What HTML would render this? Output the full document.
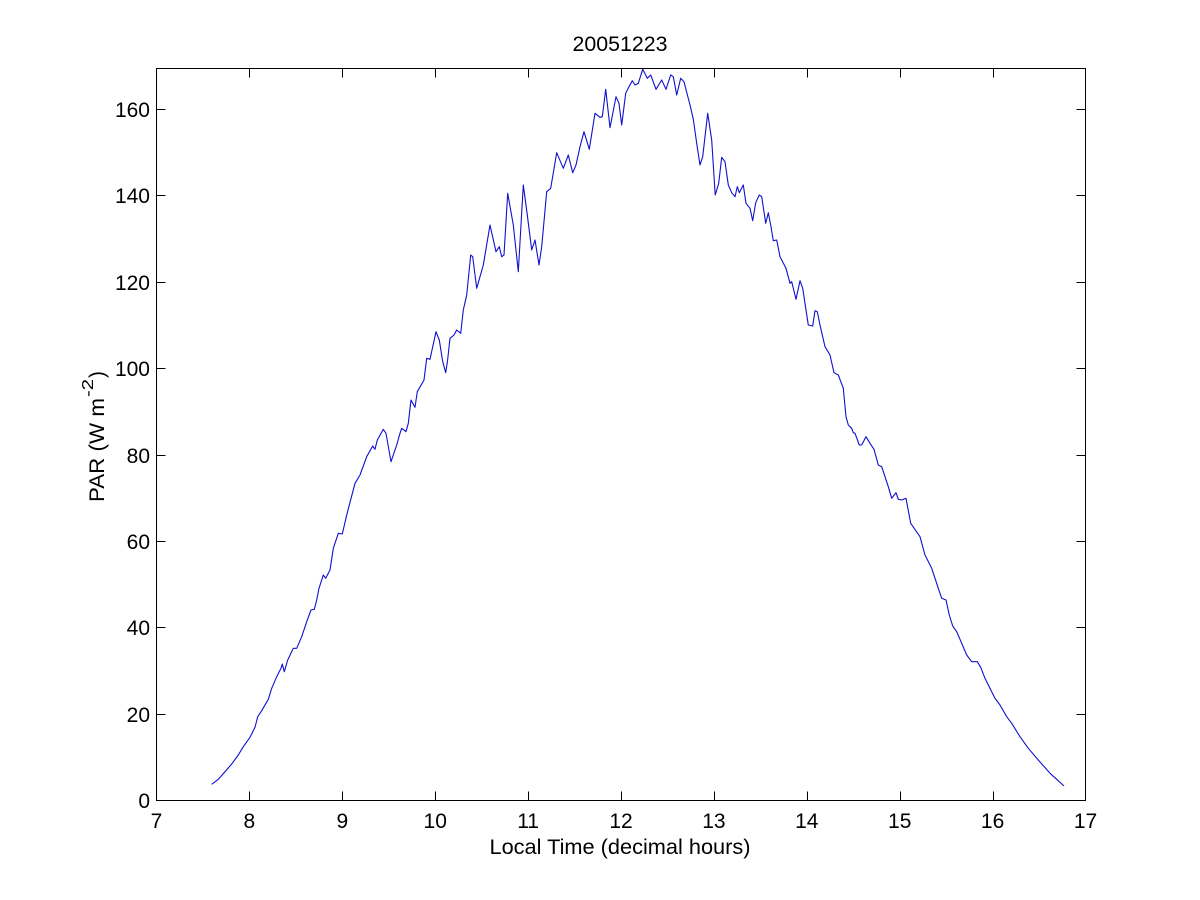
<!DOCTYPE html>
<html>
<head>
<meta charset="utf-8">
<style>
  html,body{margin:0;padding:0;background:#fff;}
  svg{display:block;}
  text{font-family:"Liberation Sans",Arial,sans-serif;fill:#000;}
</style>
</head>
<body>
<svg width="1200" height="900" viewBox="0 0 1200 900" xmlns="http://www.w3.org/2000/svg">
  <rect x="0" y="0" width="1200" height="900" fill="#fff"/>

  <!-- data series -->
  <polyline fill="none" stroke="#1010d0" stroke-width="1.1" stroke-linejoin="round" points="
211.7,784.3 218.3,779.3 225,771.7 231.7,764 238.3,755 243.3,746.7 250,737.3 255,727.3 257.7,716.7 261.7,710.7
268.3,699.3 271.7,688.3 276.7,676.7 281,668.3 282.3,664 284.3,671.7 287.7,660 293.3,648.3 296.7,648.3 301.7,636.7
306.7,621.7 311,610 314.3,609.3 316.7,600 319,588.3 323.3,575 325.7,578.3 330,570 332.3,555 333.3,548.3
338.3,533.3 342.3,534 346.7,515 355,483.3 360,475 366.7,456.7 372.7,446 375,449.3 377.3,440 383.3,429.3
386,433.3 391,461.7 396.7,445 400,433.3 401.7,428.3 406,431.7 408.3,423.3 411,400 415,407.3 417.3,391.7
424,380 426.7,358.3 430,359.3 436,331.7 439.3,340 442.7,361.7 445.7,372.7 447.5,361 450,338.3 454,335
456.7,330 460.7,333.3 463.3,310 466.7,295 470.7,255 472.7,256.7 476.7,288.3 483.3,265 490,225 496,251.7
499.3,246.7 501.7,256.7 504,255 507.7,193.3 513.3,225 518.3,271.7 523.3,185 527.3,215 531.7,250 535,240
539,265 541.7,246.7 546.7,191.7 550.7,188.3 556.7,152.7 563.3,168.3 568.3,155 572.7,172.7 576,165 580,146.7
584,131.7 589.3,149.3 595,113.3 600,117.3 602.3,116.7 605.7,89.3 610,127.7 616,96.7 619,103.3 621.7,125
625.7,93.3 629,86.7 632.3,80.7 635,85 638.3,83.3 642.7,69.3 647.3,78.3 650.7,75 656,89.3 661.7,80
666,89.3 670.7,75 673.3,76.7 676.7,95 680.7,78.3 684,81.7 690,105 693.3,119.3 696.7,143.3 700,165
702.7,156.7 707.7,113.3 711.7,140 715.2,195 716.7,190 718.7,183.3 721.7,157.3 725,161.7 728.3,185 731.7,192.7
735,196.7 737.3,186.7 739.3,192.7 743.3,185 746,203.3 750,208.3 752.7,220.7 755.7,202.7 759.3,195 761.7,196.7
765.7,223.3 768.3,212.7 771,226.7 773.3,240.7 776.7,240 780,256.7 786,268.3 790,283.3 791.7,281.7 796,299.3
800,280.7 802.7,288.3 808.3,325 812.7,326 815,310.7 817.3,311.7 820,325 825,346.7 830,355 834,372.7
838.3,375 843.3,388.3 846,416.7 848.3,425 851.7,428.3 853.3,432.7 855,433.3 859.3,445 861.7,445 866,436.7
870,443.3 874,449.3 878.3,465 881.7,466.7 888.3,486.7 891.7,498.3 896,492.7 898.3,499.3 901.7,500 906,498.3
910.7,523.3 920,536.7 925,555 931.7,568.3 938.3,588.3 941.7,598.3 946,600 949.3,615 952.7,626 956.7,631.7
961.7,643.3 966.7,655 971.7,661.7 977.3,661.7 980.7,667.3 985,678.3 991.7,691.7 995,698.3 1000,705 1006.7,716.7
1011.7,723.3 1020,736.7 1028.3,748.3 1038.3,760 1050,773.3 1056.7,779.3 1064,786"/>

  <!-- axes box -->
  <g stroke="#000" stroke-width="1" fill="none" shape-rendering="crispEdges">
    <rect x="156.5" y="68.5" width="929" height="732"/>
    <path d="
M156.5,800.5v-9 M249.5,800.5v-9 M342.5,800.5v-9 M435.5,800.5v-9 M528.5,800.5v-9 M621.5,800.5v-9
M714.5,800.5v-9 M807.5,800.5v-9 M900.5,800.5v-9 M993.5,800.5v-9 M1085.5,800.5v-9
M156.5,68.5v9 M249.5,68.5v9 M342.5,68.5v9 M435.5,68.5v9 M528.5,68.5v9 M621.5,68.5v9
M714.5,68.5v9 M807.5,68.5v9 M900.5,68.5v9 M993.5,68.5v9 M1085.5,68.5v9"/>
    <path d="
M156.5,800.5h9 M156.5,714.5h9 M156.5,627.5h9 M156.5,541.5h9 M156.5,455.5h9 M156.5,368.5h9 M156.5,282.5h9 M156.5,195.5h9 M156.5,109.5h9
M1085.5,800.5h-9 M1085.5,714.5h-9 M1085.5,627.5h-9 M1085.5,541.5h-9 M1085.5,455.5h-9 M1085.5,368.5h-9 M1085.5,282.5h-9 M1085.5,195.5h-9 M1085.5,109.5h-9"/>
  </g>

  <!-- y tick labels -->
  <g font-size="21" text-anchor="end">
    <text x="150" y="808">0</text>
    <text x="150" y="722">20</text>
    <text x="150" y="635">40</text>
    <text x="150" y="549">60</text>
    <text x="150" y="463">80</text>
    <text x="150" y="376">100</text>
    <text x="150" y="290">120</text>
    <text x="150" y="203">140</text>
    <text x="150" y="117">160</text>
  </g>

  <!-- x tick labels -->
  <g font-size="21" text-anchor="middle">
    <text x="156.5" y="828">7</text>
    <text x="249.4" y="828">8</text>
    <text x="342.3" y="828">9</text>
    <text x="435.2" y="828">10</text>
    <text x="528.1" y="828">11</text>
    <text x="621" y="828">12</text>
    <text x="713.9" y="828">13</text>
    <text x="806.8" y="828">14</text>
    <text x="899.7" y="828">15</text>
    <text x="992.6" y="828">16</text>
    <text x="1085.5" y="828">17</text>
  </g>

  <!-- title -->
  <text x="620" y="51" font-size="21" text-anchor="middle" textLength="95" lengthAdjust="spacingAndGlyphs">20051223</text>

  <!-- x label -->
  <text x="620" y="854" font-size="21" text-anchor="middle" textLength="261" lengthAdjust="spacingAndGlyphs">Local Time (decimal hours)</text>

  <!-- y label -->
  <g transform="translate(104,502) rotate(-90)" font-size="21">
    <text x="0" y="0" textLength="104" lengthAdjust="spacingAndGlyphs">PAR (W m</text>
    <text x="105" y="-11" font-size="16" textLength="18" lengthAdjust="spacingAndGlyphs">-2</text>
    <text x="124" y="0">)</text>
  </g>
</svg>
</body>
</html>
